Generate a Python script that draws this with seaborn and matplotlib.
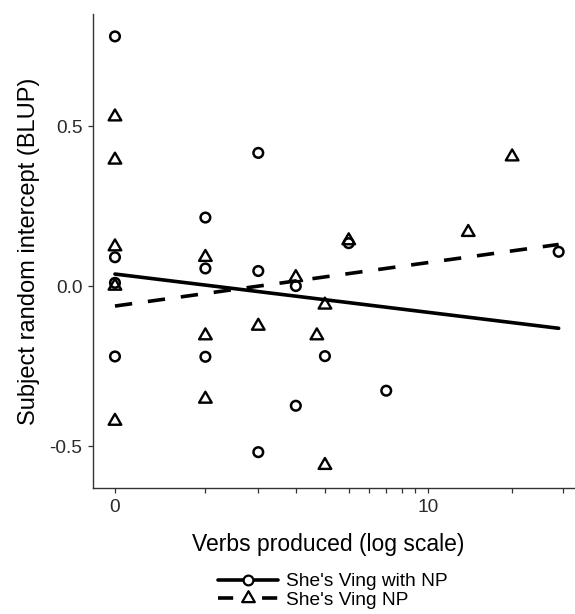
import numpy as np
import matplotlib
matplotlib.use('Agg')
import matplotlib.pyplot as plt
from matplotlib.lines import Line2D
from matplotlib.path import Path
from matplotlib.ticker import FormatStrFormatter
import seaborn as sns

# points: verbs produced vs subject BLUP
with_np_x = [0, 0, 0, 0, 1, 1, 1, 2, 2, 2, 3, 3, 4, 5, 7, 29]
with_np_y = [0.78, 0.09, 0.01, -0.22, 0.214, 0.055, -0.221, 0.416, 0.047,
             -0.519, 0.0, -0.374, -0.219, 0.134, -0.327, 0.107]
ving_np_x = [0, 0, 0, 0, 0, 1, 1, 1, 2, 3, 3.7, 4, 4, 5, 14, 20]
ving_np_y = [0.529, 0.394, 0.123, 0.0, -0.422, 0.09, -0.155, -0.353, -0.125,
             0.027, -0.155, -0.059, -0.56, 0.142, 0.168, 0.404]

# fitted lines (end points)
fit_x = [0, 29]
fit_with_np = [0.0375, -0.132]
fit_ving_np = [-0.0625, 0.130]

labels = ["She's Ving with NP", "She's Ving NP"]
x_major = [0, 10]
x_minor = [1, 2, 3, 4, 5, 6, 7, 8, 9, 20, 30]
y_ticks = [-0.5, 0.0, 0.5]

sns.set_style('ticks')
plt.rcParams['font.family'] = ['Liberation Sans', 'DejaVu Sans']
plt.rcParams['axes.unicode_minus'] = False
plt.rcParams['text.color'] = 'black'
plt.rcParams['axes.labelcolor'] = 'black'

fig = plt.figure(figsize=(5.75, 6.14), dpi=100)
ax = fig.add_axes([93 / 575, 1 - 488 / 614, 1 - 93 / 575, (488 - 14) / 614])
ax.set_xscale('function', functions=(np.log1p, np.expm1))

# equilateral triangle like R's pch 2
tri = [(-1.0, -0.577), (1.0, -0.577), (0.0, 1.155)]
tri_marker = Path(tri + [tri[0]], closed=True)

sns.lineplot(x=fit_x, y=fit_with_np, ax=ax, color='black', lw=2.6)
sns.lineplot(x=fit_x, y=fit_ving_np, ax=ax, color='black', lw=2.6,
             linestyle=(0, (4.8, 4.4)))
sns.scatterplot(x=with_np_x, y=with_np_y, ax=ax, marker='o', s=48,
                facecolors='none', edgecolor='black', linewidth=1.8)
sns.scatterplot(x=ving_np_x, y=ving_np_y, ax=ax, marker=tri_marker, s=110,
                facecolors='none', edgecolor='black', linewidth=1.7)

ax.set_xlim(-0.155, 33)
ax.set_ylim(-0.631, 0.85)
ax.set_xticks(x_major)
ax.set_xticklabels(['0', '10'])
ax.set_xticks(x_minor, minor=True)
ax.set_yticks(y_ticks)
ax.yaxis.set_major_formatter(FormatStrFormatter('%.1f'))
ax.tick_params(which='both', length=3.6, width=0.9, color='#333333',
               labelsize=13.8, labelcolor='#2a2a2a', pad=4)

sns.despine(ax=ax)
for side in ['left', 'bottom']:
    ax.spines[side].set_color('#333333')
    ax.spines[side].set_linewidth(1.0)

ax.set_xlabel('Verbs produced (log scale)', fontsize=16.5)
ax.set_ylabel('Subject random intercept (BLUP)', fontsize=17, labelpad=7)
ax.xaxis.set_label_coords(0.488, -0.094)

handles = [
    Line2D([], [], color='black', lw=2.6, marker='o', markersize=7,
           markerfacecolor='white', markeredgewidth=1.6),
    Line2D([], [], color='black', lw=2.6, linestyle=(0, (4.2, 8)),
           marker=tri_marker, markersize=10.5, markerfacecolor='white',
           markeredgewidth=1.6),
]
fig.legend(handles, labels, loc='center', bbox_to_anchor=(333 / 575, 1 - 591 / 614),
           frameon=False, fontsize=13.8, handlelength=3.1, handletextpad=0.45,
           labelspacing=0.08, borderpad=0)

fig.savefig('out.png', dpi=100)
